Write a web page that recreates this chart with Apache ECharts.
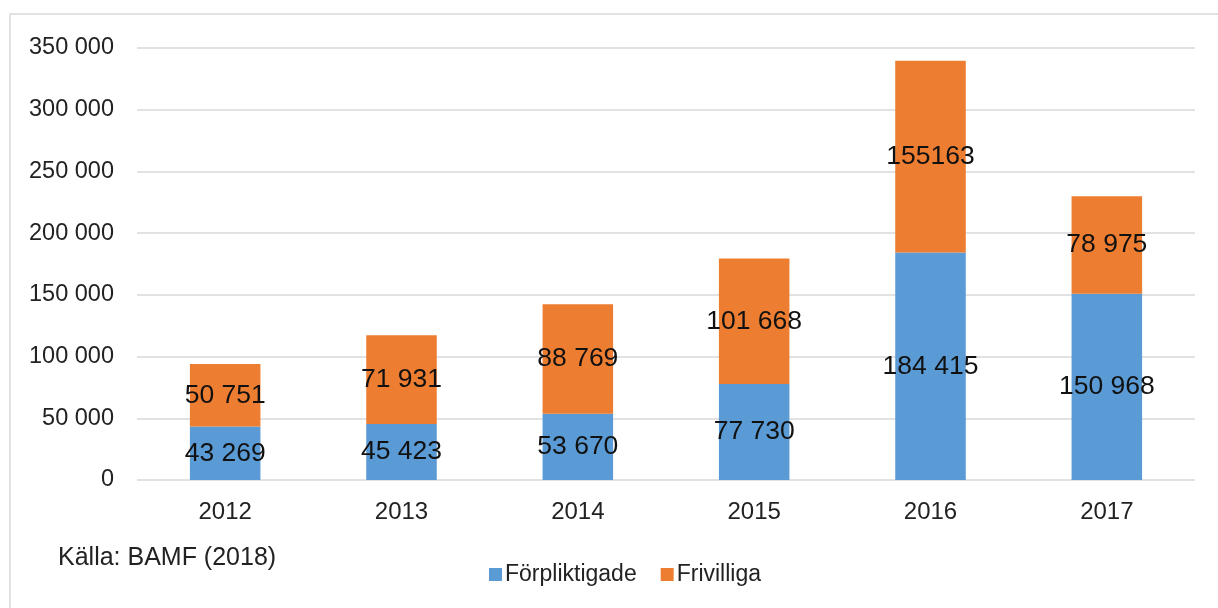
<!DOCTYPE html>
<html>
<head>
<meta charset="utf-8">
<script src="https://cdn.jsdelivr.net/npm/echarts@6/dist/echarts.min.js"></script>
<style>
  html, body { margin: 0; padding: 0; background: #fff; }
  #chart { width: 1218px; height: 608px; }
</style>
</head>
<body>
<div id="chart"></div>
<script>
// data
var years = ['2012', '2013', '2014', '2015', '2016', '2017']
var forpliktigade = [43269, 45423, 53670, 77730, 184415, 150968]
var frivilliga = [50751, 71931, 88769, 101668, 155163, 78975]
// the labels as printed (one has no space)
var forpliktigadeText = ['43 269', '45 423', '53 670', '77 730', '184 415', '150 968']
var frivilligaText = ['50 751', '71 931', '88 769', '101 668', '155163', '78 975']

var font = 'Liberation Sans'

function spaced(v) {
    return String(v).replace(/\B(?=(\d{3})+(?!\d))/g, ' ')
}

let myChart = echarts.init(document.getElementById('chart'))
let option = {
    animation: false,
    textStyle: { fontFamily: font },
    graphic: [
        {
            type: 'rect',
            shape: { x: 10, y: 14, width: 1230, height: 620 },
            style: { fill: 'none', stroke: '#d9d9d9', lineWidth: 1.5 },
            silent: true
        },
        {
            type: 'text',
            left: 58,
            top: 546,
            style: { text: 'Källa: BAMF (2018)', fontSize: 25, fontFamily: font, fill: '#222' }
        }
    ],
    legend: {
        top: 558,
        left: 484,
        itemWidth: 13,
        itemHeight: 13,
        itemGap: 24,
        icon: 'rect',
        textStyle: { fontSize: 23, color: '#222', fontFamily: font, padding: [0, 0, 0, -2] },
        data: ['Förpliktigade', 'Frivilliga']
    },
    grid: {
        left: 137,
        right: 23,
        top: 48,
        bottom: 128,
        containLabel: false
    },
    xAxis: {
        type: 'category',
        data: years,
        axisLine: { show: false },
        axisTick: { show: false },
        axisLabel: { fontSize: 24, color: '#222', margin: 20 }
    },
    yAxis: {
        type: 'value',
        min: 0,
        max: 350000,
        interval: 50000,
        axisLabel: {
            fontSize: 23.5,
            color: '#222',
            margin: 23,
            padding: [4, 0, 0, 0],
            formatter: spaced
        },
        splitLine: { lineStyle: { color: '#d9d9d9', width: 1.5 } }
    },
    series: [
        {
            name: 'Förpliktigade',
            type: 'bar',
            stack: 'total',
            barWidth: '40%',
            data: forpliktigade,
            itemStyle: { color: '#5b9bd5' },
            label: {
                show: true,
                position: 'inside',
                fontSize: 26.5,
                color: '#111',
                formatter: function (p) { return forpliktigadeText[p.dataIndex] }
            }
        },
        {
            name: 'Frivilliga',
            type: 'bar',
            stack: 'total',
            barWidth: '40%',
            data: frivilliga,
            itemStyle: { color: '#ed7d31' },
            label: {
                show: true,
                position: 'inside',
                fontSize: 26.5,
                color: '#111',
                formatter: function (p) { return frivilligaText[p.dataIndex] }
            }
        }
    ]
}

myChart.setOption(option)
</script>
</body>
</html>
